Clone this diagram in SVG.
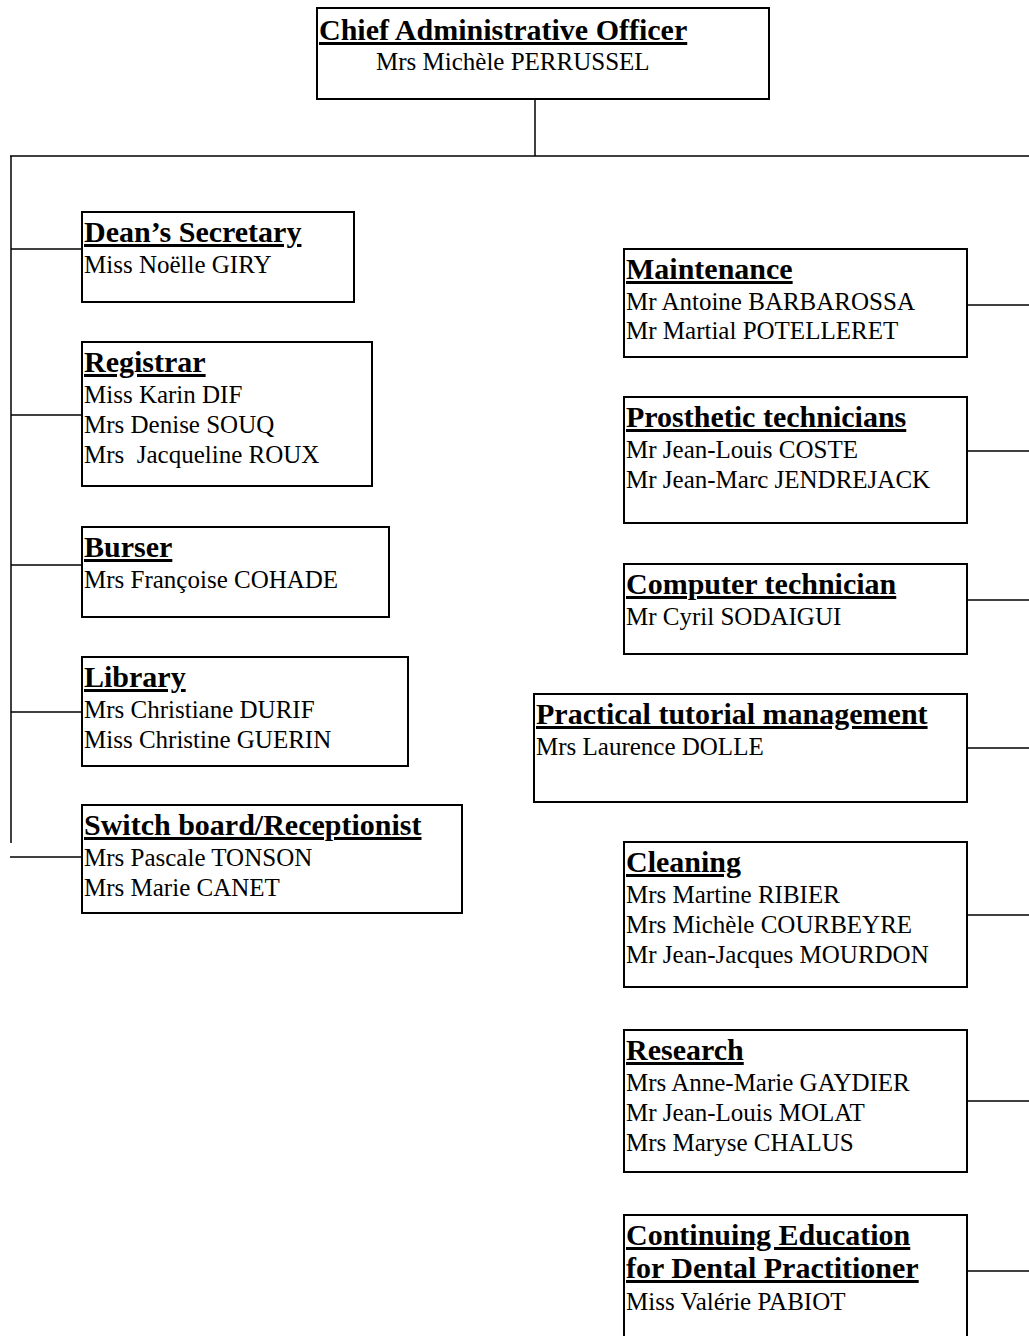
<svg xmlns="http://www.w3.org/2000/svg" width="1029" height="1336" viewBox="0 0 1029 1336">
<style>
rect.box{fill:#fff;stroke:#000;stroke-width:2}
.h{font-family:"Liberation Serif","Times New Roman",serif;font-weight:bold;font-size:30px;text-decoration:underline}
.b{font-family:"Liberation Serif","Times New Roman",serif;font-size:25px}
.c line{stroke:#000;stroke-width:1.5}
</style>
<rect width="1029" height="1336" fill="#fff"/>
<g class="c" id="connectors">
<line x1="535" y1="99" x2="535" y2="156"/>
<line x1="10" y1="156" x2="1029" y2="156"/>
<line x1="11" y1="156" x2="11" y2="843"/>
<line x1="11" y1="249" x2="82" y2="249"/>
<line x1="11" y1="415" x2="82" y2="415"/>
<line x1="11" y1="565" x2="82" y2="565"/>
<line x1="11" y1="712" x2="82" y2="712"/>
<line x1="10" y1="857" x2="82" y2="857"/>
<line x1="967" y1="305" x2="1029" y2="305"/>
<line x1="967" y1="451" x2="1029" y2="451"/>
<line x1="967" y1="600" x2="1029" y2="600"/>
<line x1="967" y1="748" x2="1029" y2="748"/>
<line x1="967" y1="915" x2="1029" y2="915"/>
<line x1="967" y1="1101" x2="1029" y2="1101"/>
<line x1="967" y1="1271" x2="1029" y2="1271"/>
</g>
<g id="cao"><rect class="box" x="317" y="8" width="452" height="91"/><text class="h" x="319" y="40">Chief Administrative Officer</text><text class="b" x="376" y="70">Mrs Michèle PERRUSSEL</text></g>
<g id="dean"><rect class="box" x="82" y="212" width="272" height="90"/><text class="h" x="84" y="242">Dean’s Secretary</text><text class="b" x="84" y="273">Miss Noëlle GIRY</text></g>
<g id="registrar"><rect class="box" x="82" y="342" width="290" height="144"/><text class="h" x="84" y="372">Registrar</text><text class="b" x="84" y="403">Miss Karin DIF</text><text class="b" x="84" y="433">Mrs Denise SOUQ</text><text class="b" x="84" y="463" xml:space="preserve">Mrs  Jacqueline ROUX</text></g>
<g id="burser"><rect class="box" x="82" y="527" width="307" height="90"/><text class="h" x="84" y="557">Burser</text><text class="b" x="84" y="588">Mrs Françoise COHADE</text></g>
<g id="library"><rect class="box" x="82" y="657" width="326" height="109"/><text class="h" x="84" y="687">Library</text><text class="b" x="84" y="718">Mrs Christiane DURIF</text><text class="b" x="84" y="748">Miss Christine GUERIN</text></g>
<g id="switchboard"><rect class="box" x="82" y="805" width="380" height="108"/><text class="h" x="84" y="835">Switch board/Receptionist</text><text class="b" x="84" y="866">Mrs Pascale TONSON</text><text class="b" x="84" y="896">Mrs Marie CANET</text></g>
<g id="maintenance"><rect class="box" x="624" y="249" width="343" height="108"/><text class="h" x="626" y="279">Maintenance</text><text class="b" x="626" y="310">Mr Antoine BARBAROSSA</text><text class="b" x="626" y="339">Mr Martial POTELLERET</text></g>
<g id="prosthetic"><rect class="box" x="624" y="397" width="343" height="126"/><text class="h" x="626" y="427">Prosthetic technicians</text><text class="b" x="626" y="458">Mr Jean-Louis COSTE</text><text class="b" x="626" y="488">Mr Jean-Marc JENDREJACK</text></g>
<g id="computer"><rect class="box" x="624" y="564" width="343" height="90"/><text class="h" x="626" y="594">Computer technician</text><text class="b" x="626" y="625">Mr Cyril SODAIGUI</text></g>
<g id="practical"><rect class="box" x="534" y="694" width="433" height="108"/><text class="h" x="536" y="724">Practical tutorial management</text><text class="b" x="536" y="755">Mrs Laurence DOLLE</text></g>
<g id="cleaning"><rect class="box" x="624" y="842" width="343" height="145"/><text class="h" x="626" y="872">Cleaning</text><text class="b" x="626" y="903">Mrs Martine RIBIER</text><text class="b" x="626" y="933">Mrs Michèle COURBEYRE</text><text class="b" x="626" y="963">Mr Jean-Jacques MOURDON</text></g>
<g id="research"><rect class="box" x="624" y="1030" width="343" height="142"/><text class="h" x="626" y="1060">Research</text><text class="b" x="626" y="1091">Mrs Anne-Marie GAYDIER</text><text class="b" x="626" y="1121">Mr Jean-Louis MOLAT</text><text class="b" x="626" y="1151">Mrs Maryse CHALUS</text></g>
<g id="continuing"><rect class="box" x="624" y="1215" width="343" height="140"/><text class="h" x="626" y="1245">Continuing Education</text><text class="h" x="626" y="1278">for Dental Practitioner</text><text class="b" x="626" y="1310">Miss Valérie PABIOT</text></g>
</svg>
